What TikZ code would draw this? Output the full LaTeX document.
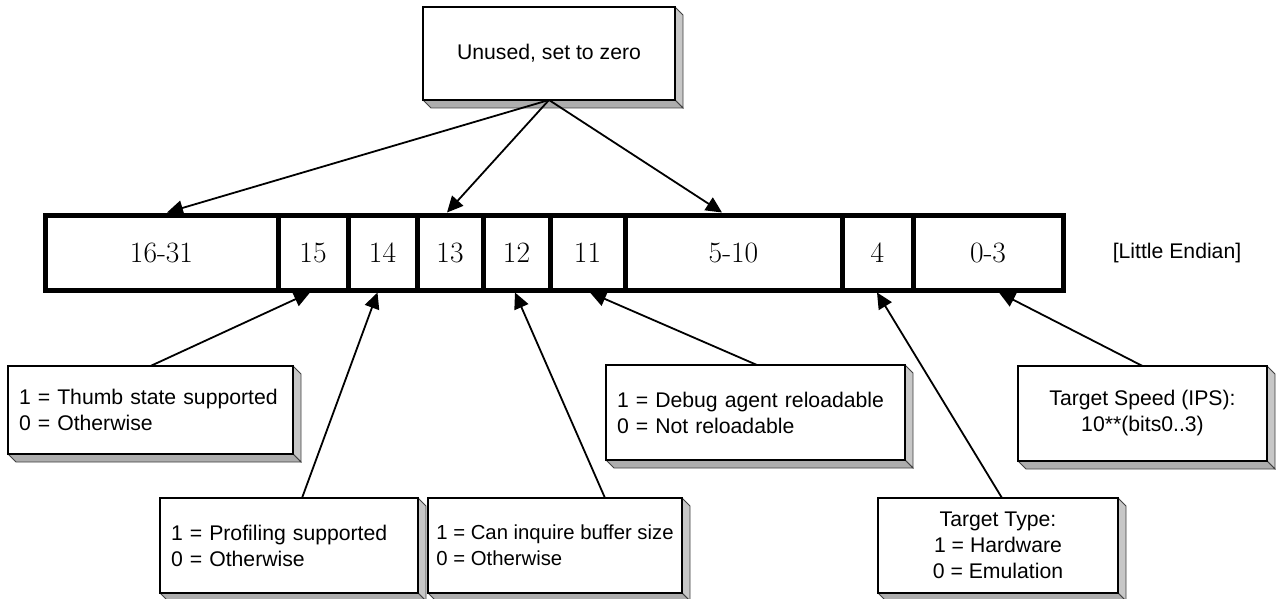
\documentclass[tikz,border=0pt]{standalone}
\usepackage{fontspec}
\newfontfamily\notefont{Liberation Sans}
\usetikzlibrary{arrows.meta,backgrounds}

\tikzset{
  cell/.style={draw, line width=5pt, minimum height=75pt, inner sep=0pt,
    font=\fontsize{29.5}{33}\selectfont},
  note/.style={draw, line width=1.2pt, fill=white, inner sep=0pt, outer sep=0pt,
    font=\notefont\fontsize{21.2}{26}\selectfont},
  leftnote/.style={note, align=left, inner xsep=11pt},
  midnote/.style={note, align=center},
  ptr/.style={line width=1.8pt, -{Triangle[length=16pt,width=15pt]}},
  bevelright/.style={fill=black!22, draw=black!75, line width=0.8pt},
  bevelbottom/.style={fill=black!32, draw=black!75, line width=0.8pt},
}

% extruded edge on the right and bottom of a note box
\newcommand\bevelnote[1]{%
  \begin{pgfonlayer}{background}
    \filldraw[bevelright] (#1.north east) -- ([shift={(8,8)}]#1.north east)
      -- ([shift={(8,8)}]#1.south east) -- (#1.south east) -- cycle;
    \filldraw[bevelbottom] (#1.south west) -- ([shift={(8,8)}]#1.south west)
      -- ([shift={(8,8)}]#1.south east) -- (#1.south east) -- cycle;
  \end{pgfonlayer}}

\begin{document}
\begin{tikzpicture}[x=1pt, y=-1pt]
\useasboundingbox (0,0) rectangle (1279,599);

% register cells
\node[cell, minimum width=233pt] (c1631) at (161.5,252.5) {16-31};
\node[cell, minimum width=70pt]  (c15)   at (313,252.5)   {15};
\node[cell, minimum width=69pt]  (c14)   at (382.5,252.5) {14};
\node[cell, minimum width=66pt]  (c13)   at (450,252.5)   {13};
\node[cell, minimum width=67pt]  (c12)   at (516.5,252.5) {12};
\node[cell, minimum width=75pt]  (c11)   at (587.5,252.5) {11};
\node[cell, minimum width=217pt] (c510)  at (733.5,252.5) {5-10};
\node[cell, minimum width=71pt]  (c4)    at (877.5,252.5) {4};
\node[cell, minimum width=150pt] (c03)   at (988,252.5)   {0-3};

\node[font=\notefont\fontsize{21.2}{26}\selectfont] (endian) at (1177,253) {[Little Endian]};

% unused bits
\node[midnote, minimum width=252pt, minimum height=93pt] (unused) at (549,53.5) {Unused, set to zero};
\bevelnote{unused}

% field descriptions
\node[leftnote, text width=263pt, minimum height=88pt] (thumb) at (150.5,410)
  {1 = Thumb state supported\\0 = Otherwise};
\bevelnote{thumb}
\node[leftnote, text width=236pt, minimum height=95pt] (prof) at (289,545.5)
  {1 = Profiling supported\\0 = Otherwise};
\bevelnote{prof}
\node[note, align=left, minimum width=254pt, minimum height=95pt,
  font=\notefont\fontsize{20.3}{26}\selectfont] (buf) at (555,545.5)
  {1 = Can inquire buffer size\\0 = Otherwise};
\bevelnote{buf}
\node[leftnote, text width=277pt, minimum height=95pt] (debug) at (755.5,412.5)
  {1 = Debug agent reloadable\\0 = Not reloadable};
\bevelnote{debug}
\node[midnote, minimum width=240pt, minimum height=95pt] (ttype) at (998,545.5)
  {Target Type:\\1 = Hardware\\0 = Emulation};
\bevelnote{ttype}
\node[midnote, minimum width=249pt, minimum height=95pt] (speed) at (1142.5,413.5)
  {Target Speed (IPS):\\10**(bits0..3)};
\bevelnote{speed}

% pointers from the unused box
\draw[ptr] (unused.south) -- ([xshift=5.5pt]c1631.north);
\draw[ptr] (unused.south) -- ([xshift=-3pt]c13.north);
\draw[ptr] (unused.south) -- ([xshift=-11.5pt]c510.north);

% pointers from the descriptions
\draw[ptr] (thumb.north) -- ([xshift=-3pt]c15.south);
\draw[ptr] ([xshift=13pt]prof.north) -- ([xshift=-5pt]c14.south);
\draw[ptr] ([xshift=50pt]buf.north) -- ([xshift=-1.5pt]c12.south);
\draw[ptr] ([xshift=1.5pt]debug.north) -- ([xshift=2.5pt]c11.south);
\draw[ptr] ([xshift=4pt]ttype.north) -- ([xshift=-0.5pt]c4.south);
\draw[ptr] (speed.north) -- ([xshift=11pt]c03.south);
\end{tikzpicture}
\end{document}
